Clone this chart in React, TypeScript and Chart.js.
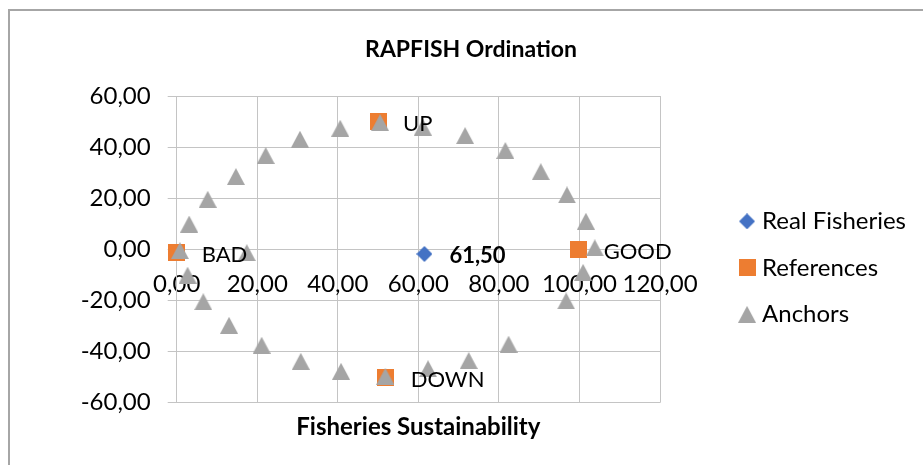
import React, { useEffect, useRef } from 'react';
import { Chart, registerables } from 'chart.js';

Chart.register(...registerables);

const chartTitle = 'RAPFISH Ordination';
const xAxisTitle = 'Fisheries Sustainability';
const seriesNames = ['Real Fisheries', 'References', 'Anchors'];

const xTickValues = [0, 20, 40, 60, 80, 100, 120];
const yTickValues = [-60, -40, -20, 0, 20, 40, 60];

const realX = [61.5];
const realY = [-1.8];

const referenceLabels = ['BAD', 'UP', 'GOOD', 'DOWN'];
const referenceX = [0, 50, 99.8, 51.9];
const referenceY = [-1.2, 50.0, -0.1, -50.3];

const anchorX = [
  0.8, 3.1, 7.7, 14.7, 22.1, 30.6, 40.6, 50.5, 61.1, 71.6, 81.6, 90.4, 96.9, 101.6,
  103.8, 100.9, 96.7, 82.4, 72.5, 62.4, 51.8, 40.8, 30.8, 21.1, 13.0, 6.6, 2.7, 17.4,
];
const anchorY = [
  -0.5, 9.9, 19.6, 28.5, 36.7, 43.1, 47.4, 49.6, 47.8, 44.5, 38.7, 30.4, 21.3, 11.0,
  0.6, -9.0, -20.2, -37.1, -43.5, -46.7, -49.7, -47.7, -43.8, -37.5, -29.7, -20.5, -10.1, -1.3,
];

const BLUE = '#4472C4';
const ORANGE = '#ED7D31';
const GRAY = '#A5A5A5';
const GRID = '#c4c4c4';
const FONT = 'Lato';

const fmt = (v: number) => v.toFixed(2).replace('.', ',');

function makeMarker(kind: string, color: string): HTMLCanvasElement {
  const c = document.createElement('canvas');
  const ctx = c.getContext('2d')!;
  if (kind === 'triangle') {
    c.width = 18; c.height = 17;
    ctx.fillStyle = color;
    ctx.beginPath();
    ctx.moveTo(9, 0);
    ctx.lineTo(18, 17);
    ctx.lineTo(0, 17);
    ctx.closePath();
    ctx.fill();
  } else if (kind === 'square') {
    c.width = 17; c.height = 17;
    ctx.fillStyle = color;
    ctx.fillRect(0, 0, 17, 17);
  } else {
    c.width = 16; c.height = 16;
    ctx.fillStyle = color;
    ctx.beginPath();
    ctx.moveTo(8, 0);
    ctx.lineTo(16, 8);
    ctx.lineTo(8, 16);
    ctx.lineTo(0, 8);
    ctx.closePath();
    ctx.fill();
  }
  return c;
}

const labelPlugin = {
  id: 'pointLabels',
  afterDatasetsDraw(chart: any) {
    const ctx = chart.ctx;
    ctx.save();
    ctx.textAlign = 'left';
    ctx.textBaseline = 'middle';
    ctx.fillStyle = '#000';
    ctx.font = `22px ${FONT}`;
    chart.getDatasetMeta(1).data.forEach((el: any, i: number) => {
      ctx.fillText(referenceLabels[i], el.x + 25, el.y + 2);
    });
    ctx.font = `bold 22px ${FONT}`;
    chart.getDatasetMeta(0).data.forEach((el: any, i: number) => {
      ctx.fillText(fmt(realX[i]), el.x + 25, el.y + 2);
    });
    ctx.restore();
  },
};

export default function App() {
  const canvasRef = useRef<HTMLCanvasElement | null>(null);

  useEffect(() => {
    if (!canvasRef.current) return;
    const diamond = makeMarker('diamond', BLUE);
    const square = makeMarker('square', ORANGE);
    const triangle = makeMarker('triangle', GRAY);

    const chart = new Chart(canvasRef.current, {
      type: 'scatter',
      data: {
        datasets: [
          {
            label: seriesNames[0],
            data: realX.map((x, i) => ({ x, y: realY[i] })),
            pointStyle: diamond,
            backgroundColor: BLUE,
            borderColor: BLUE,
            order: 2,
            clip: false,
            xAxisID: 'x',
            yAxisID: 'y',
          },
          {
            label: seriesNames[1],
            data: referenceX.map((x, i) => ({ x, y: referenceY[i] })),
            pointStyle: square,
            backgroundColor: ORANGE,
            borderColor: ORANGE,
            order: 1,
            clip: false,
            xAxisID: 'x',
            yAxisID: 'y',
          },
          {
            label: seriesNames[2],
            data: anchorX.map((x, i) => ({ x, y: anchorY[i] })),
            pointStyle: triangle,
            backgroundColor: GRAY,
            borderColor: GRAY,
            order: 0,
            clip: false,
            xAxisID: 'x',
            yAxisID: 'y',
          },
        ],
      },
      options: {
        animation: false,
        responsive: true,
        maintainAspectRatio: false,
        devicePixelRatio: 1,
        layout: { padding: { left: 26, right: 7, top: 0, bottom: 0 } },
        scales: {
          x: {
            type: 'linear',
            min: 0,
            max: 120,
            position: { y: 0 },
            afterBuildTicks: (s: any) => {
              s.ticks = xTickValues.map((value) => ({ value }));
            },
            grid: { color: GRID, lineWidth: 1, tickLength: 7 },
            border: { color: GRID, width: 1 },
            ticks: {
              font: { family: FONT, size: 24 },
              color: '#000',
              padding: 14,
              maxRotation: 0,
              autoSkip: false,
              callback: (v: any) => fmt(Number(v)),
            },
          },
          y: {
            type: 'linear',
            min: -60,
            max: 60,
            position: 'left',
            afterBuildTicks: (s: any) => {
              s.ticks = yTickValues.map((value) => ({ value }));
            },
            afterFit: (s: any) => {
              s.width = 150.7;
            },
            grid: { color: GRID, lineWidth: 1, tickLength: 9 },
            border: { color: GRID, width: 1 },
            ticks: {
              font: { family: FONT, size: 24 },
              color: '#000',
              padding: 17,
              autoSkip: false,
              callback: (v: any) => fmt(Number(v)),
            },
          },
          pad: {
            type: 'linear',
            position: 'right',
            display: true,
            grid: { display: false },
            border: { display: false },
            ticks: { display: false },
            afterFit: (s: any) => {
              s.width = 61.5;
            },
          },
        },
        plugins: {
          tooltip: { enabled: false },
          title: {
            display: true,
            text: chartTitle,
            color: '#000',
            font: { family: FONT, size: 23, weight: 'bold' },
            padding: { top: 36.2, bottom: 32.2 },
          },
          subtitle: {
            display: true,
            position: 'bottom',
            fullSize: false,
            text: xAxisTitle,
            color: '#000',
            font: { family: FONT, size: 24, weight: 'bold' },
            padding: { top: 9.9, bottom: 23.6 },
          },
          legend: {
            position: 'right',
            fullSize: false,
            align: 'center',
            maxWidth: 400,
            title: { display: true, text: '', padding: 0, font: { size: 10, lineHeight: 3.7 } },
            labels: {
              usePointStyle: true,
              boxWidth: 6,
              padding: 22.5,
              color: '#000',
              font: { family: FONT, size: 24 },
              sort: (a: any, b: any) => a.datasetIndex - b.datasetIndex,
            },
          },
        },
      } as any,
      plugins: [labelPlugin],
    });
    return () => chart.destroy();
  }, []);

  return (
    <div style={{ position: 'fixed', left: 0, top: 0, width: 923, height: 465, overflow: 'hidden', background: '#fff' }}>
      <div
        style={{
          position: 'absolute',
          left: 8,
          top: 9,
          width: 1000,
          height: 1000,
          border: '2px solid #a6a6a6',
        }}
      />
      <div style={{ position: 'absolute', left: 0, top: 0, width: 923, height: 465 }}>
        <canvas ref={canvasRef} />
      </div>
    </div>
  );
}
